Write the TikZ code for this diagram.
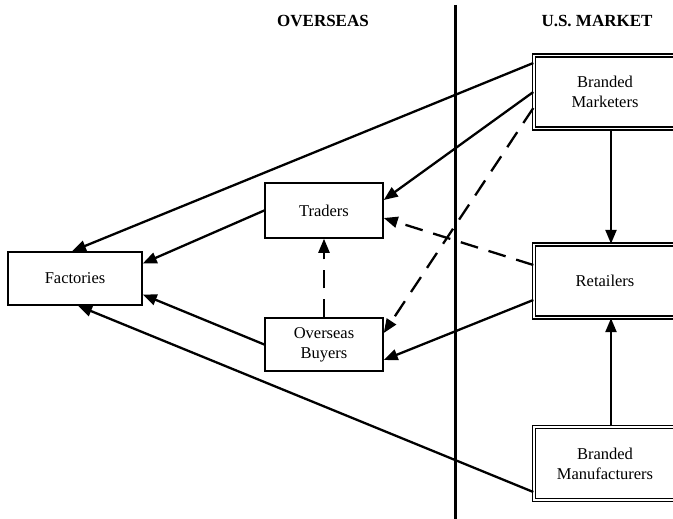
\documentclass[tikz,border=0pt]{standalone}
\usepackage{fontspec}
\setmainfont{Liberation Serif}
\usetikzlibrary{arrows.meta}
\tikzset{
  box/.style={draw, line width=1.5pt, minimum width=118pt, minimum height=53pt, align=center, font=\fontsize{16.5}{20}\selectfont},
  dbox/.style={draw, line width=1.4pt, double, double distance=1.8pt, minimum width=142pt, minimum height=73pt, align=center, font=\fontsize{16.5}{20}\selectfont},
  link/.style={line width=2.3pt, -{Triangle[length=14pt,width=11pt]}},
  dlink/.style={link, dash pattern=on 18pt off 11pt}
}
\begin{document}
\begin{tikzpicture}[x=1pt,y=-1pt]
\clip (0,0) rectangle (673,519);
\fill[white] (0,0) rectangle (673,519);
% headings and divider
\node[font=\fontsize{17}{18}\selectfont\bfseries] (hover) at (323,21) {OVERSEAS};
\node[font=\fontsize{17}{18}\selectfont\bfseries] (hus) at (597,21) {U.S. MARKET};
\draw[line width=3pt] (455,5) -- (455,519);

% nodes
\node[box, minimum width=134pt] (fac) at (75,278.5) {Factories};
\node[box, minimum height=55pt] (trd) at (324,210.5) {Traders};
\node[box] (ob) at (324,344.5) {Overseas\\Buyers};
\node[dbox] (bm) at (605,92) {Branded\\Marketers};
\node[dbox] (ret) at (605,281) {Retailers};
\node[dbox] (bman) at (605,463.5) {Branded\\Manufacturers};

% links
\draw[link] ([yshift=29pt]bm.west) -- ([xshift=-3pt]fac.north);
\draw[link] (bm.west) -- ([yshift=10.5pt]trd.east);
\draw[dlink] ([yshift=-16pt]bm.west) -- ([yshift=11.5pt]ob.east);
\draw[link] ([xshift=6pt]bm.south) -- ([xshift=6pt]ret.north);
\draw[dlink] ([yshift=16pt]ret.west) -- ([yshift=-7.5pt]trd.east);
\draw[link] ([yshift=-19pt]ret.west) -- ([yshift=-15.5pt]ob.east);
\draw[link] ([xshift=6pt]bman.north) -- ([xshift=6pt]ret.south);
\draw[link] ([yshift=-28.5pt]bman.west) -- ([xshift=3pt]fac.south);
\draw[link] (trd.west) -- ([yshift=15pt]fac.east);
\draw[link] (ob.west) -- ([yshift=-16pt]fac.east);
\draw[dlink] (ob.north) -- (trd.south);
\end{tikzpicture}
\end{document}
